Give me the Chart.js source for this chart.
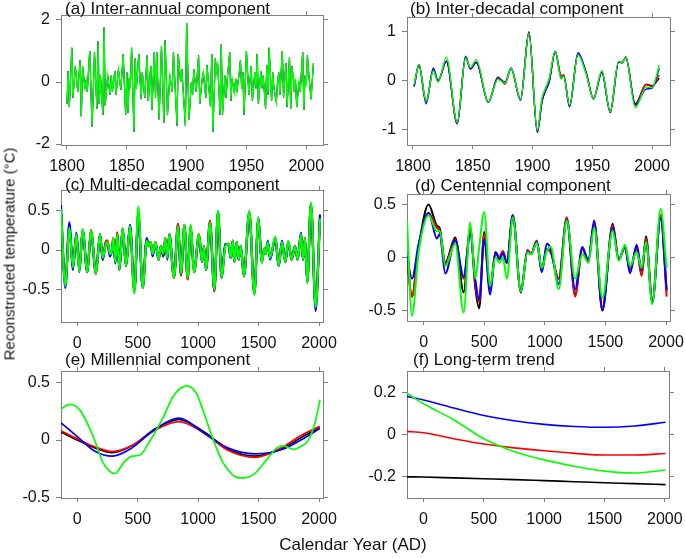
<!DOCTYPE html>
<html>
<head>
<meta charset="utf-8">
<script src="https://cdn.jsdelivr.net/npm/chart.js@4.4.1/dist/chart.umd.min.js"></script>
<style>
  body { margin: 0; background: #fff; }
  #wrap { position: relative; width: 685px; height: 558px; font-family: "Liberation Sans", Arial, Helvetica, sans-serif; color: #111; }
  #wrap canvas { position: absolute; left: 0; top: 0; }
  #ytitle { position: absolute; left: 9px; top: 254px; transform: translate(-50%, -50%) rotate(-90deg); white-space: nowrap; font-size: 15px; }
  #xtitle { position: absolute; left: 353px; top: 545px; transform: translate(-50%, -50%); white-space: nowrap; font-size: 17px; }
</style>
</head>
<body>
<div id="wrap">
  <canvas id="pa" width="685" height="558"></canvas>
  <canvas id="pb" width="685" height="558"></canvas>
  <canvas id="pc" width="685" height="558"></canvas>
  <canvas id="pd" width="685" height="558"></canvas>
  <canvas id="pe" width="685" height="558"></canvas>
  <canvas id="pf" width="685" height="558"></canvas>
  <div id="ytitle">Reconstructed temperature (°C)</div>
  <div id="xtitle">Calendar Year (AD)</div>
</div>
<script>
// tick labels
const recentTicks = [1800, 1850, 1900, 1950, 2000];
const longTicks = [0, 500, 1000, 1500, 2000];
const ticksA = [-2, 0, 2];
const ticksB = [-1, 0, 1];
const ticksHalf = [-0.5, 0, 0.5];
const ticksF = [-0.2, 0, 0.2];

// (a) inter-annual: the four reconstructions overlap almost completely
const annualYears = [1800,1801,1802,1804,1805,1807,1809,1811,1812,1813,1815,1816,1817,1819,1821,1823,1825,1826,1827,1828,
  1830,1831,1832,1834,1836,1837,1838,1840,1841,1843,1845,1847,1849,1850,1851,1852,1853,1854,1856,1857,
  1858,1860,1862,1863,1865,1867,1868,1870,1871,1873,1874,1875,1877,1879,1881,1882,1884,1886,1888,1889,
  1892,1893,1895,1896,1899,1900,1902,1904,1905,1906,1908,1910,1911,1913,1914,1916,1917,1920,1921,1922,
  1924,1925,1926,1928,1929,1930,1932,1933,1934,1936,1937,1938,1940,1941,1942,1944,1945,1946,1947,1948,
  1950,1952,1954,1955,1957,1958,1959,1960,1962,1963,1964,1966,1967,1968,1969,1971,1972,1973,1975,1976,
  1977,1978,1980,1981,1982,1983,1984,1986,1987,1988,1989,1990,1991,1992,1994,1995,1997,1998,1999,2000,
  2001,2002,2004,2006];
const annualTemp = [-0.7,0.35,-0.8,1.1,-0.5,0.5,-0.3,0.7,-1.1,0.5,-0.2,0.05,-0.3,1.0,-1.45,0.95,-0.85,1.3,-0.7,0.2,
  -1.05,1.75,-0.75,0.2,-0.4,0.2,-0.3,0.35,-0.4,0.4,-0.25,0.9,-1.05,0.3,-1.0,0.1,-0.1,1.1,-1.6,0.75,
  -0.2,0.9,-0.55,0.3,-0.5,0.85,-0.6,0.5,-0.9,0.95,-0.5,0.95,-1.2,1.15,-1.3,1.35,-1.05,0.2,-0.3,0.95,
  -1.4,0.9,0.0,0.4,-1.4,1.9,-1.2,0.0,-0.4,0.4,-0.3,0.85,-0.7,0.1,0.3,-0.5,0.55,-0.8,0.9,-1.6,
  0.75,0.3,0.55,-1.05,1.2,-1.05,0.2,-0.5,0.1,0.95,-0.6,0.1,-0.35,0.1,-0.3,0.3,0.7,-0.2,0.3,-1.05,
  1.0,-0.4,0.5,-0.6,0.3,-0.2,0.9,-0.7,0.35,-0.2,0.2,-0.85,0.55,-0.4,1.1,-0.6,0.3,-0.2,-0.65,0.0,
  0.3,-0.4,1.0,-0.5,0.1,0.6,-0.8,0.8,-0.85,0.5,0.2,-0.3,0.1,-0.8,0.0,-0.3,0.95,-0.9,0.2,-0.1,
  0.85,0.3,-0.55,0.6];

// (b) inter-decadal
const decYears = [1801,1805,1811,1817,1821,1828,1837,1844,1848,1853,1863,1871,1877,1882,1890,1897,1904,1908,1911,1914,
  1919,1924,1926,1931,1938,1945,1951,1958,1965,1972,1975,1978,1986,1995,2000,2006];
const decGreen = [-0.08,0.33,-0.42,0.2,-0.03,0.48,-0.85,0.46,0.27,0.43,-0.43,0.03,-0.05,0.25,-0.38,0.97,-1.02,-0.35,-0.15,0.05,
  0.61,0.03,0.1,-0.5,0.53,0.12,-0.37,0.21,-0.63,0.4,0.37,0.48,-0.55,-0.13,-0.14,0.32];
const decBlue = [-0.12,0.32,-0.47,0.26,0.0,0.4,-0.87,0.5,0.24,0.37,-0.44,0.05,-0.03,0.26,-0.4,0.98,-1.05,-0.4,-0.18,0.0,
  0.6,0.05,0.1,-0.53,0.57,0.15,-0.38,0.17,-0.63,0.38,0.38,0.47,-0.5,-0.17,-0.15,0.25];
const decRed = [-0.1,0.33,-0.43,0.22,0.0,0.4,-0.87,0.48,0.25,0.38,-0.43,0.08,-0.07,0.25,-0.38,1.0,-1.05,-0.38,-0.15,0.02,
  0.6,0.1,0.12,-0.5,0.55,0.15,-0.36,0.18,-0.63,0.38,0.36,0.49,-0.5,-0.08,-0.12,0.12];
const decBlack = [-0.1,0.32,-0.43,0.22,0.0,0.4,-0.88,0.48,0.25,0.38,-0.44,0.06,-0.04,0.25,-0.38,0.99,-1.04,-0.42,-0.2,-0.02,
  0.6,0.1,0.12,-0.52,0.55,0.15,-0.36,0.18,-0.65,0.38,0.37,0.48,-0.47,-0.07,-0.1,0.05];

// (c) multi-decadal
const multiYears = [-135,-99,-66,-36,-8,17,44,83,113,154,188,210,232,248,270,287,298,314,331,348,
  375,403,436,472,505,541,574,590,607,623,646,673,692,712,728,745,761,800,833,858,
  886,913,938,966,1007,1032,1048,1065,1098,1134,1164,1194,1225,1252,1269,1286,1299,1319,1335,1352,
  1379,1423,1465,1498,1526,1546,1557,1577,1595,1639,1666,1694,1721,1746,1774,1801,1823,1851,1868,1884,
  1903,1933,1972,2008];
const multiGreen = [0.52,-0.45,0.28,-0.22,0.2,-0.27,0.27,-0.28,0.25,-0.3,0.2,-0.1,0.05,0.1,-0.05,0.0,0.15,-0.15,0.2,-0.25,
  0.28,-0.2,0.3,-0.55,0.55,-0.48,0.12,0.05,0.1,-0.05,0.1,-0.12,0.05,-0.05,0.15,-0.1,0.2,-0.35,0.3,-0.3,
  0.32,-0.35,0.32,-0.28,0.2,-0.15,0.05,-0.25,0.35,-0.5,0.5,-0.35,0.05,0.08,-0.1,0.12,-0.15,0.1,-0.12,0.05,
  -0.33,0.5,-0.57,0.42,-0.17,0.02,-0.05,0.1,-0.1,0.17,-0.2,0.1,-0.15,0.12,-0.12,0.05,-0.12,0.2,-0.12,0.15,
  -0.42,0.6,-0.72,0.4];
const multiBlue = [0.57,-0.48,0.35,-0.25,0.22,-0.28,0.25,-0.28,0.22,-0.28,0.2,-0.12,0.05,0.08,-0.08,0.0,0.12,-0.17,0.18,-0.25,
  0.27,-0.2,0.32,-0.52,0.42,-0.48,0.15,0.07,0.08,-0.08,0.08,-0.12,0.05,-0.07,0.12,-0.12,0.2,-0.33,0.28,-0.3,
  0.3,-0.33,0.3,-0.28,0.18,-0.15,0.03,-0.25,0.33,-0.5,0.48,-0.35,0.08,0.06,-0.1,0.1,-0.15,0.1,-0.12,0.05,
  -0.33,0.47,-0.55,0.4,-0.15,0.0,-0.05,0.12,-0.12,0.15,-0.2,0.12,-0.15,0.1,-0.12,0.05,-0.12,0.22,-0.12,0.13,
  -0.4,0.58,-0.77,0.45];
const multiRed = [0.45,-0.42,0.3,-0.22,0.2,-0.25,0.25,-0.28,0.25,-0.3,0.2,-0.12,0.08,0.12,-0.05,0.0,0.15,-0.15,0.22,-0.25,
  0.27,-0.2,0.3,-0.52,0.47,-0.47,0.13,0.05,0.1,-0.05,0.1,-0.12,0.05,-0.08,0.15,-0.1,0.2,-0.35,0.33,-0.32,
  0.32,-0.37,0.3,-0.28,0.2,-0.15,0.05,-0.25,0.37,-0.52,0.48,-0.35,0.07,0.08,-0.1,0.12,-0.15,0.1,-0.12,0.05,
  -0.33,0.48,-0.55,0.4,-0.15,0.02,-0.05,0.1,-0.1,0.15,-0.2,0.1,-0.15,0.1,-0.12,0.05,-0.12,0.2,-0.12,0.15,
  -0.4,0.58,-0.7,0.4];
const multiBlack = multiRed;

// (d) centennial
const centYears = [-137,-96,-41,41,110,132,179,261,330,385,426,459,500,549,593,626,654,687,736,802,
  857,887,934,975,1016,1049,1115,1181,1250,1310,1360,1407,1475,1560,1610,1662,1703,1758,1799,1835,
  1887,1956,2005];
const centGreen = [0.35,-0.55,0.05,0.4,0.25,0.25,-0.08,0.13,-0.52,0.33,-0.2,0.1,0.43,-0.27,0.0,-0.05,0.0,-0.2,0.38,-0.32,
  0.05,0.03,0.14,-0.1,0.06,0.1,-0.3,0.35,-0.2,0.03,-0.05,0.28,-0.38,0.25,-0.03,0.12,-0.08,0.05,-0.1,0.15,
  -0.44,0.46,-0.1];
const centBlue = [0.02,-0.2,0.13,0.42,0.18,0.22,-0.15,0.16,-0.18,0.22,-0.2,-0.4,0.17,-0.35,0.05,-0.02,0.04,-0.05,0.4,-0.32,
  0.06,0.03,0.15,-0.14,0.13,0.08,-0.25,0.36,-0.3,0.1,-0.03,0.35,-0.5,0.28,-0.02,0.1,-0.15,0.12,-0.12,0.15,
  -0.42,0.37,-0.3];
const centRed = [0.0,-0.37,0.1,0.42,0.28,0.25,-0.07,0.17,-0.2,0.27,-0.25,-0.42,0.22,-0.3,0.05,0.0,0.06,-0.05,0.4,-0.32,
  0.07,0.04,0.16,-0.12,0.07,0.05,-0.2,0.38,-0.37,0.08,-0.03,0.33,-0.47,0.3,-0.02,0.1,-0.12,0.08,-0.17,0.18,
  -0.42,0.4,-0.37];
const centBlack = [0.0,-0.37,0.1,0.5,0.3,0.28,-0.05,0.19,-0.33,0.27,-0.28,-0.48,0.24,-0.3,0.05,0.0,0.06,-0.05,0.4,-0.33,
  0.06,0.03,0.15,-0.12,0.08,0.05,-0.2,0.37,-0.35,0.08,-0.03,0.33,-0.5,0.32,-0.02,0.1,-0.12,0.1,-0.17,0.2,
  -0.42,0.4,-0.32];

// (e) millennial
const milGreenYears = [-135,-66,22,132,215,312,381,450,519,588,712,794,905,988,1043,1126,1208,1346,1457,1567,
  1650,1705,1788,1843,1912,1967,2008];
const milGreen = [0.27,0.31,0.26,0.03,-0.2,-0.29,-0.2,-0.14,-0.13,-0.03,0.2,0.38,0.47,0.4,0.25,0.0,-0.2,-0.33,-0.3,-0.17,
  -0.07,-0.05,-0.08,-0.06,0.0,0.15,0.35];
const milYears = [-135,0,150,290,450,650,840,1050,1250,1470,1700,1850,2006];
const milBlue = [0.15,0.03,-0.1,-0.14,-0.07,0.1,0.19,0.06,-0.07,-0.12,-0.08,0.0,0.1];
const milRed = [0.08,0.01,-0.06,-0.1,-0.05,0.09,0.16,0.06,-0.09,-0.15,-0.06,0.04,0.12];
const milBlack = [0.07,0.0,-0.07,-0.11,-0.05,0.1,0.18,0.07,-0.08,-0.14,-0.07,0.02,0.11];

// (f) long-term trend
const trendYears = [-137,0,250,500,750,1000,1250,1500,1750,2006];
const trendGreen = [0.195,0.145,0.07,-0.02,-0.08,-0.12,-0.15,-0.173,-0.182,-0.168];
const trendBlue = [0.18,0.163,0.125,0.09,0.065,0.048,0.038,0.034,0.04,0.058];
const trendRed = [0.015,0.008,-0.02,-0.045,-0.063,-0.077,-0.089,-0.097,-0.097,-0.09];
const trendBlack = [-0.2,-0.201,-0.205,-0.209,-0.213,-0.218,-0.223,-0.228,-0.232,-0.237];

const FONT = '"Liberation Sans", Arial, Helvetica, sans-serif';
Chart.defaults.font.family = FONT;
Chart.defaults.font.size = 16;
Chart.defaults.color = "#111";
const W = 685, H = 558;
const Y_W = 50, X_H = 30, EDGE = 6;   // fixed axis sizes so every plot box lands where it should
const BOX = "#7f7f7f", INK = "#111";
const GREEN = "#00ff00", BLUE = "#0000ff", RED = "#ff0000", BLACK = "#000000";

function pts(xs, ys) {
  return xs.map((x, i) => ({ x: x, y: ys[i] }));
}

function axis(pos, min, max, values, labelled) {
  const horiz = pos === "bottom" || pos === "top";
  return {
    type: "linear",
    position: pos,
    min: min,
    max: max,
    afterBuildTicks: (s) => { s.ticks = values.map((v) => ({ value: v })); },
    afterFit: (s) => {
      if (horiz) {
        s.height = pos === "bottom" ? X_H : EDGE;
        s.paddingLeft = 0;
        s.paddingRight = 0;
      } else {
        s.width = pos === "left" ? Y_W : EDGE;
        s.paddingTop = 0;
        s.paddingBottom = 0;
      }
    },
    grid: { drawOnChartArea: false, drawTicks: true, tickLength: horiz ? 4 : 5, color: BOX, lineWidth: 1 },
    border: { display: true, color: BOX, width: 1 },
    ticks: {
      display: labelled,
      color: INK,
      font: { family: FONT, size: 16 },
      padding: horiz ? 8 : 6,
      maxRotation: 0,
      autoSkip: false,
      callback: (v) => String(v),
    },
  };
}

function panel(id, p) {
  const a = p.area;
  const titlePlugin = {
    id: "panelTitle",
    afterDraw(chart) {
      const ctx = chart.ctx;
      ctx.save();
      ctx.font = "17px " + FONT;
      ctx.fillStyle = INK;
      ctx.textBaseline = "alphabetic";
      ctx.fillText(p.title, p.titleX, p.titleY);
      ctx.restore();
    },
  };

  new Chart(document.getElementById(id), {
    type: "line",
    data: {
      datasets: p.series.map((s) => ({
        data: pts(s.x, s.y),
        borderColor: s.color,
        borderWidth: s.width || p.width,
        pointRadius: 0,
        fill: false,
        tension: p.smooth ? 0.4 : 0,
        cubicInterpolationMode: p.smooth ? "monotone" : "default",
      })),
    },
    options: {
      responsive: false,
      animation: false,
      events: [],
      layout: {
        padding: { left: a.l - Y_W, top: a.t - EDGE, right: W - a.r - EDGE, bottom: H - a.b - X_H },
      },
      plugins: { legend: { display: false }, tooltip: { enabled: false } },
      scales: {
        x: axis("bottom", p.xMin, p.xMax, p.xTicks, true),
        x2: axis("top", p.xMin, p.xMax, p.xTicks, false),
        y: axis("left", p.yMin, p.yMax, p.yTicks, true),
        y2: axis("right", p.yMin, p.yMax, p.yTicks, false),
      },
    },
    plugins: [titlePlugin],
  });
}

// green is listed first so it is painted on top, as in the original
panel("pa", {
  title: "(a) Inter-annual component", titleX: 65, titleY: 13.5,
  area: { l: 61, t: 15, r: 323, b: 145 },
  xMin: 1795, xMax: 2014, xTicks: recentTicks,
  yMin: -2.03, yMax: 2.16, yTicks: ticksA,
  width: 0.8, smooth: false,
  series: [
    { x: annualYears, y: annualTemp, color: GREEN, width: 1.4 },
    { x: annualYears, y: annualTemp, color: BLUE },
    { x: annualYears, y: annualTemp, color: RED },
    { x: annualYears, y: annualTemp, color: BLACK },
  ],
});

panel("pb", {
  title: "(b) Inter-decadal component", titleX: 410, titleY: 13.5,
  area: { l: 407, t: 17, r: 670, b: 145 },
  xMin: 1795, xMax: 2015, xTicks: recentTicks,
  yMin: -1.31, yMax: 1.3, yTicks: ticksB,
  width: 1.4, smooth: true,
  series: [
    { x: decYears, y: decGreen, color: GREEN },
    { x: decYears, y: decBlue, color: BLUE },
    { x: decYears, y: decRed, color: RED },
    { x: decYears, y: decBlack, color: BLACK },
  ],
});

panel("pc", {
  title: "(c) Multi-decadal component", titleX: 65, titleY: 190,
  area: { l: 61, t: 190, r: 323, b: 322 },
  xMin: -135, xMax: 2033, xTicks: longTicks,
  yMin: -0.91, yMax: 0.76, yTicks: ticksHalf,
  width: 2.2, smooth: true,
  series: [
    { x: multiYears, y: multiGreen, color: GREEN },
    { x: multiYears, y: multiBlue, color: BLUE },
    { x: multiYears, y: multiRed, color: RED },
    { x: multiYears, y: multiBlack, color: BLACK },
  ],
});

panel("pd", {
  title: "(d) Centennial component", titleX: 415, titleY: 190.5,
  area: { l: 407, t: 194, r: 670, b: 321 },
  xMin: -137, xMax: 2033, xTicks: longTicks,
  yMin: -0.6, yMax: 0.6, yTicks: ticksHalf,
  width: 2, smooth: true,
  series: [
    { x: centYears, y: centGreen, color: GREEN },
    { x: centYears, y: centBlue, color: BLUE },
    { x: centYears, y: centRed, color: RED },
    { x: centYears, y: centBlack, color: BLACK },
  ],
});

panel("pe", {
  title: "(e) Millennial component", titleX: 65, titleY: 365,
  area: { l: 61, t: 371, r: 323, b: 498 },
  xMin: -135, xMax: 2033, xTicks: longTicks,
  yMin: -0.503, yMax: 0.6, yTicks: ticksHalf,
  width: 1.7, smooth: true,
  series: [
    { x: milGreenYears, y: milGreen, color: GREEN },
    { x: milYears, y: milBlue, color: BLUE },
    { x: milYears, y: milRed, color: RED },
    { x: milYears, y: milBlack, color: BLACK },
  ],
});

panel("pf", {
  title: "(f) Long-term trend", titleX: 413, titleY: 365,
  area: { l: 407, t: 371, r: 669, b: 498 },
  xMin: -137, xMax: 2035, xTicks: longTicks,
  yMin: -0.3, yMax: 0.3, yTicks: ticksF,
  width: 1.6, smooth: true,
  series: [
    { x: trendYears, y: trendGreen, color: GREEN },
    { x: trendYears, y: trendBlue, color: BLUE },
    { x: trendYears, y: trendRed, color: RED },
    { x: trendYears, y: trendBlack, color: BLACK },
  ],
});
</script>
</body>
</html>
